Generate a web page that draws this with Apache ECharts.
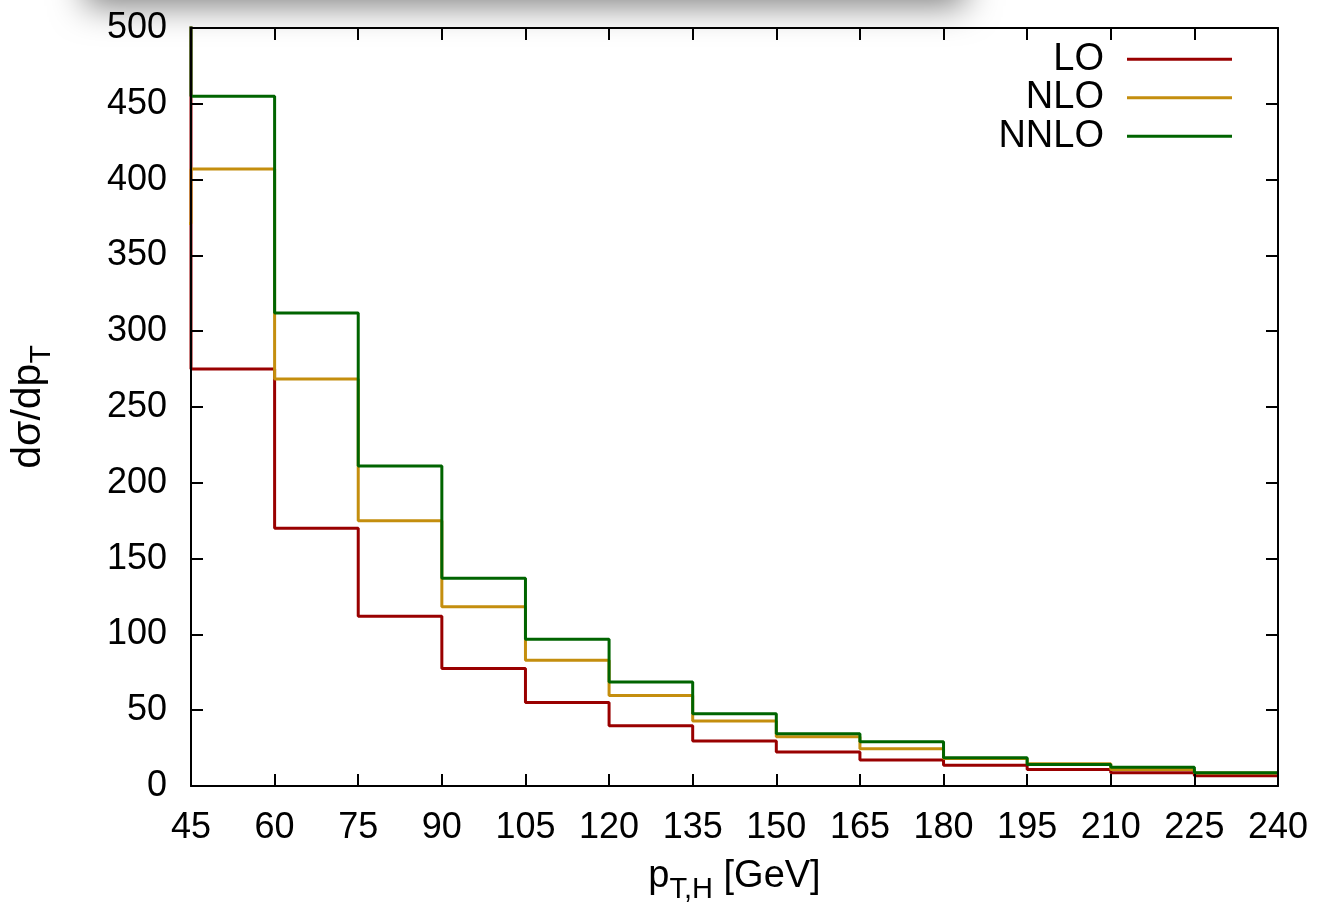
<!DOCTYPE html>
<html>
<head>
<meta charset="utf-8">
<script src="https://cdn.jsdelivr.net/npm/echarts@6/dist/echarts.min.js"></script>
<style>
html,body{margin:0;padding:0;background:#fff;}
#chart{width:1322px;height:907px;}
</style>
</head>
<body>
<div id="chart"></div>
<script>
// Bin edges (GeV). The first bin (30-45) lies left of the plotted range;
// its values run off the top of the frame and only show as the rise at x = 45.
const binEdges = [30, 45, 60, 75, 90, 105, 120, 135, 150, 165, 180, 195, 210, 225, 240];
const seriesNames = ['LO', 'NLO', 'NNLO'];
const LO   = [520, 275, 170, 112, 77.5, 55, 39.8, 29.7, 22.4, 17.2, 13.7, 10.9, 8.8, 6.8];
const NLO  = [371, 407, 268.5, 175, 118.3, 83, 59.7, 42.9, 32.5, 24.6, 18.2, 14.7, 10.9, 8.5];
const NNLO = [520, 455, 312, 211, 137, 96.8, 68.6, 47.7, 34.5, 29.2, 18.6, 14.2, 12.4, 8.8];
const xTicks = {min: 45, max: 240, interval: 15};
const yTicks = {min: 0, max: 500, interval: 50};

const colors = ['#990000', '#c48e0e', '#006400'];
const FONT = '"Liberation Sans", Arial, Helvetica, sans-serif';

function stepData(vals) {
  const d = [];
  for (let i = 0; i < vals.length; i++) d.push([binEdges[i], vals[i]]);
  d.push([binEdges[vals.length], vals[vals.length - 1]]);
  return d;
}

const chart = echarts.init(document.getElementById('chart'), null, {renderer: 'canvas'});

const axisCommon = {
  z: 10,
  axisLine: {show: true, onZero: false, lineStyle: {color: '#000', width: 2}},
  axisTick: {show: true, inside: true, length: 12, lineStyle: {color: '#000', width: 2}},
  splitLine: {show: false},
  minorTick: {show: false}
};

const xRich = {
  a: {fontSize: 38, fontFamily: FONT, color: '#000', lineHeight: 42, padding: [0, 0, 12, 0]},
  b: {fontSize: 29, fontFamily: FONT, color: '#000', lineHeight: 32, padding: [18, 0, 4, 0]}
};
const yRich = {
  a: {fontSize: 41, fontFamily: FONT, color: '#000', lineHeight: 44, padding: [0, 0, 13, 0]},
  b: {fontSize: 30, fontFamily: FONT, color: '#000', lineHeight: 33, padding: [19, 0, 5, 0]}
};

const option = {
  backgroundColor: '#fff',
  animation: false,
  color: colors,
  graphic: [{
    type: 'rect',
    z: -10,
    shape: {x: 85, y: -70, width: 880, height: 62},
    style: {fill: '#fff', shadowBlur: 34, shadowColor: 'rgba(0,0,0,0.5)', shadowOffsetY: 14}
  }],
  grid: {left: 191, right: 44, top: 28, bottom: 121, containLabel: false, outerBoundsMode: 'none'},
  legend: {
    orient: 'vertical',
    right: 90,
    top: 40,
    padding: 0,
    itemGap: 0,
    align: 'right',
    icon: 'rect',
    itemWidth: 105,
    itemHeight: 3,
    selectedMode: false,
    data: seriesNames,
    textStyle: {fontSize: 38, fontFamily: FONT, color: '#000', lineHeight: 38.5, padding: [0, 18, 0, 0]}
  },
  xAxis: [
    Object.assign({
      type: 'value', position: 'bottom',
      min: xTicks.min, max: xTicks.max, interval: xTicks.interval,
      axisLabel: {fontSize: 36, fontFamily: FONT, color: '#000', margin: 24},
      name: '{a|p}{b|T,H}{a| [GeV]}',
      nameLocation: 'middle',
      nameGap: 76,
      nameTextStyle: {rich: xRich}
    }, axisCommon),
    Object.assign({
      type: 'value', position: 'top',
      min: xTicks.min, max: xTicks.max, interval: xTicks.interval,
      axisLabel: {show: false}
    }, axisCommon)
  ],
  yAxis: [
    Object.assign({
      type: 'value', position: 'left',
      min: yTicks.min, max: yTicks.max, interval: yTicks.interval,
      axisLabel: {fontSize: 36, fontFamily: FONT, color: '#000', margin: 24},
      name: '{a|dσ/dp}{b|T}',
      nameLocation: 'middle',
      nameGap: 134,
      nameRotate: 90,
      nameTextStyle: {rich: yRich}
    }, axisCommon),
    Object.assign({
      type: 'value', position: 'right',
      min: yTicks.min, max: yTicks.max, interval: yTicks.interval,
      axisLabel: {show: false}
    }, axisCommon)
  ],
  series: [LO, NLO, NNLO].map((vals, k) => ({
    name: seriesNames[k],
    type: 'line',
    step: 'end',
    xAxisIndex: 0,
    yAxisIndex: 0,
    showSymbol: false,
    symbol: 'none',
    clip: true,
    lineStyle: {width: 3, color: colors[k]},
    itemStyle: {color: colors[k]},
    data: stepData(vals),
    z: 2 + k
  }))
};

chart.setOption(option);
</script>
</body>
</html>
